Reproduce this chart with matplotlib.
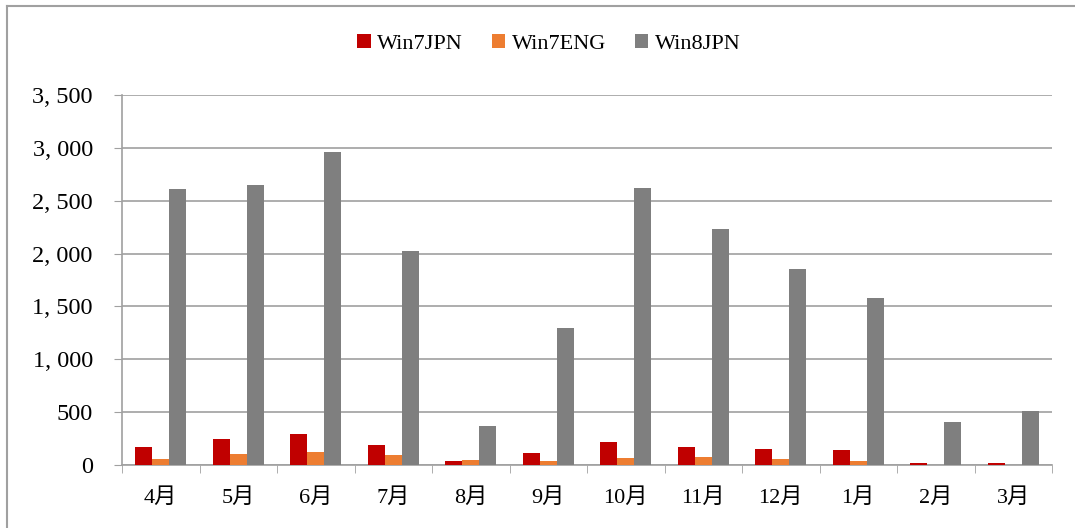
import matplotlib.pyplot as plt
import numpy as np
from matplotlib.lines import Line2D
from matplotlib.ticker import FuncFormatter

plt.rcParams['font.family'] = ['Liberation Serif', 'Noto Sans CJK JP']

months = ['4月', '5月', '6月', '7月', '8月', '9月', '10月', '11月', '12月', '1月', '2月', '3月']
win7jpn = [168, 244, 297, 187, 41, 117, 221, 168, 155, 146, 16, 16]
win7eng = [54, 108, 120, 95, 44, 35, 70, 73, 54, 35, 3, 3]
win8jpn = [2610, 2650, 2960, 2025, 367, 1300, 2620, 2235, 1855, 1580, 405, 515]

W, H = 1075, 528
fig = plt.figure(figsize=(W / 100, H / 100), dpi=100)
ax = fig.add_axes([122 / W, 1 - 465 / H, (1052 - 122) / W, (465 - 95) / H])

x = np.arange(len(months))
bw = 0.22
ax.bar(x - bw, win7jpn, bw, color='#C00000', label='Win7JPN', zorder=3)
ax.bar(x, win7eng, bw, color='#ED7D31', label='Win7ENG', zorder=3)
ax.bar(x + bw, win8jpn, bw, color='#7F7F7F', label='Win8JPN', zorder=3)

ax.set_xlim(-0.5, len(months) - 0.5)
ax.set_ylim(0, 3500)
ax.set_yticks(np.arange(0, 3501, 500))
ax.yaxis.set_major_formatter(FuncFormatter(lambda v, p: f'{int(v):,}'.replace(',', ', ')))
ax.set_xticks(x)
ax.set_xticklabels(months)
ax.set_xticks(np.arange(-0.5, len(months), 1), minor=True)
ax.tick_params(axis='x', which='major', length=0, pad=17, labelsize=16)
ax.tick_params(axis='x', which='minor', length=6, color='#A0A0A0', direction='out')
ax.tick_params(axis='y', length=6, color='#A0A0A0', pad=15, labelsize=17.5)

ax.grid(axis='y', color='#A0A0A0', linewidth=1.2, zorder=0)
for s in ['top', 'right']:
    ax.spines[s].set_visible(False)
for s in ['left', 'bottom']:
    ax.spines[s].set_color('#A0A0A0')
    ax.spines[s].set_linewidth(1.2)

ax.legend(loc='center', bbox_to_anchor=(549 / W, 1 - 44 / H), bbox_transform=fig.transFigure,
          ncol=3, frameon=False, fontsize=16, handlelength=0.6, handleheight=0.6,
          handletextpad=0.3, columnspacing=1.3)

# chart border
fig.add_artist(Line2D([7 / W, 1], [1 - 6 / H, 1 - 6 / H], color='#A0A0A0', linewidth=1.5))
fig.add_artist(Line2D([7 / W, 7 / W], [0, 1 - 6 / H], color='#A0A0A0', linewidth=1.5))

fig.savefig('out.png', dpi=100)
